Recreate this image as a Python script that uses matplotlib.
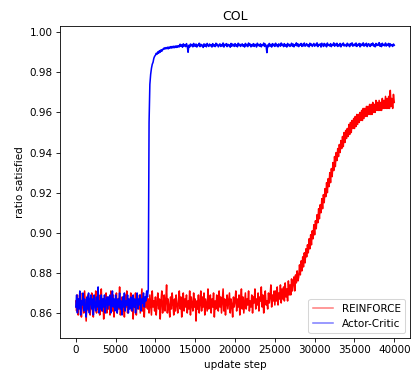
import numpy as np
import matplotlib
matplotlib.use("Agg")
import matplotlib.pyplot as plt
from matplotlib.lines import Line2D

steps = np.arange(0, 40001, 100)

reinforce = [
    0.866, 0.861, 0.869, 0.859, 0.867, 0.863, 0.870, 0.858, 0.865, 0.868,
    0.860, 0.871, 0.863, 0.856, 0.866, 0.869, 0.861, 0.867, 0.859, 0.864,
    0.870, 0.862, 0.858, 0.867, 0.864, 0.871, 0.860, 0.866, 0.862, 0.869,
    0.859, 0.865, 0.872, 0.861, 0.867, 0.857, 0.866, 0.863, 0.870, 0.860,
    0.868, 0.862, 0.866, 0.859, 0.871, 0.864, 0.861, 0.869, 0.858, 0.866,
    0.863, 0.870, 0.860, 0.867, 0.862, 0.873, 0.859, 0.865, 0.868, 0.861,
    0.866, 0.858, 0.869, 0.863, 0.871, 0.860, 0.867, 0.862, 0.865, 0.870,
    0.861, 0.868, 0.857, 0.866, 0.863, 0.870, 0.859, 0.867, 0.864, 0.862,
    0.869, 0.860, 0.866, 0.872, 0.861, 0.865, 0.858, 0.868, 0.863, 0.870,
    0.862, 0.867, 0.860, 0.869, 0.864, 0.859, 0.871, 0.863, 0.866, 0.861,
    0.868, 0.859, 0.865, 0.870, 0.862, 0.867, 0.857, 0.866, 0.871, 0.860,
    0.864, 0.869, 0.861, 0.866, 0.874, 0.860, 0.867, 0.863, 0.858, 0.868,
    0.862, 0.870, 0.865, 0.859, 0.867, 0.861, 0.869, 0.864, 0.860, 0.866,
    0.871, 0.862, 0.868, 0.858, 0.865, 0.870, 0.861, 0.867, 0.863, 0.869,
    0.860, 0.866, 0.862, 0.871, 0.859, 0.868, 0.864, 0.861, 0.870, 0.863,
    0.867, 0.856, 0.866, 0.862, 0.869, 0.860, 0.865, 0.871, 0.861, 0.868,
    0.863, 0.870, 0.859, 0.867, 0.864, 0.861, 0.872, 0.862, 0.866, 0.869,
    0.860, 0.867, 0.863, 0.870, 0.858, 0.866, 0.862, 0.869, 0.864, 0.861,
    0.871, 0.863, 0.868, 0.860, 0.866, 0.872, 0.861, 0.867, 0.859, 0.865,
    0.869, 0.862, 0.866, 0.870, 0.860, 0.867, 0.864, 0.858, 0.868, 0.863,
    0.866, 0.871, 0.861, 0.867, 0.863, 0.869, 0.859, 0.866, 0.872, 0.862,
    0.868, 0.860, 0.865, 0.870, 0.862, 0.867, 0.864, 0.871, 0.861, 0.866,
    0.863, 0.869, 0.860, 0.868, 0.865, 0.872, 0.862, 0.867, 0.864, 0.870,
    0.861, 0.868, 0.866, 0.873, 0.863, 0.869, 0.860, 0.867, 0.871, 0.864,
    0.866, 0.862, 0.870, 0.865, 0.868, 0.874, 0.863, 0.869, 0.866, 0.871,
    0.864, 0.871, 0.866, 0.873, 0.864, 0.870, 0.867, 0.874, 0.865, 0.872,
    0.867, 0.873, 0.866, 0.875, 0.868, 0.872, 0.866, 0.876, 0.869, 0.874,
    0.869, 0.877, 0.871, 0.875, 0.878, 0.871, 0.879, 0.875, 0.881, 0.876,
    0.878, 0.884, 0.879, 0.886, 0.881, 0.888, 0.883, 0.890, 0.885, 0.892,
    0.888, 0.894, 0.890, 0.897, 0.892, 0.899, 0.894, 0.901, 0.897, 0.904,
    0.899, 0.906, 0.902, 0.909, 0.905, 0.912, 0.907, 0.914, 0.910, 0.917,
    0.912, 0.919, 0.915, 0.922, 0.918, 0.925, 0.920, 0.927, 0.923, 0.930,
    0.925, 0.932, 0.928, 0.935, 0.931, 0.938, 0.933, 0.940, 0.936, 0.942,
    0.938, 0.944, 0.940, 0.946, 0.942, 0.948, 0.943, 0.950, 0.945, 0.951,
    0.947, 0.952, 0.948, 0.954, 0.949, 0.955, 0.950, 0.956, 0.952, 0.957,
    0.952, 0.958, 0.953, 0.959, 0.954, 0.959, 0.955, 0.960, 0.956, 0.961,
    0.956, 0.962, 0.957, 0.962, 0.958, 0.963, 0.958, 0.963, 0.959, 0.964,
    0.959, 0.964, 0.959, 0.965, 0.960, 0.964, 0.960, 0.966, 0.961, 0.965,
    0.961, 0.966, 0.961, 0.965, 0.961, 0.967, 0.962, 0.966, 0.962, 0.968,
    0.962, 0.967, 0.962, 0.968, 0.962, 0.971, 0.963, 0.967, 0.962, 0.969,
    0.965,
]

actor_critic = [
    0.863, 0.869, 0.860, 0.867, 0.862, 0.871, 0.859, 0.866, 0.864, 0.870,
    0.861, 0.867, 0.863, 0.858, 0.868, 0.862, 0.870, 0.860, 0.866, 0.869,
    0.862, 0.867, 0.859, 0.869, 0.864, 0.861, 0.868, 0.863, 0.873, 0.860,
    0.866, 0.862, 0.869, 0.861, 0.867, 0.863, 0.869, 0.860, 0.866, 0.868,
    0.862, 0.868, 0.864, 0.869, 0.860, 0.866, 0.871, 0.863, 0.867, 0.861,
    0.869, 0.864, 0.860, 0.867, 0.863, 0.870, 0.862, 0.866, 0.859, 0.868,
    0.863, 0.870, 0.861, 0.866, 0.864, 0.869, 0.860, 0.867, 0.862, 0.868,
    0.865, 0.861, 0.869, 0.863, 0.867, 0.860, 0.866, 0.870, 0.862, 0.867,
    0.864, 0.869, 0.861, 0.867, 0.865, 0.870, 0.863, 0.868, 0.866, 0.871,
    0.868, 0.872, 0.955, 0.974, 0.979, 0.982, 0.984, 0.985, 0.987, 0.988,
    0.9885, 0.9895, 0.9890, 0.9902, 0.9895, 0.9908, 0.9900, 0.9912, 0.9905, 0.9915,
    0.9914, 0.9922, 0.9916, 0.9923, 0.9918, 0.9925, 0.9917, 0.9926, 0.9920, 0.9928,
    0.9921, 0.9929, 0.9922, 0.9930, 0.9923, 0.9931, 0.9924, 0.9932, 0.9925, 0.9933,
    0.9927, 0.9940, 0.9930, 0.9937, 0.9925, 0.9942, 0.9931, 0.9938, 0.9928, 0.9943,
    0.9930, 0.9900, 0.9935, 0.9926, 0.9941, 0.9932, 0.9939, 0.9927, 0.9944, 0.9933,
    0.9929, 0.9941, 0.9926, 0.9937, 0.9933, 0.9945, 0.9928, 0.9940, 0.9931, 0.9936,
    0.9924, 0.9942, 0.9930, 0.9939, 0.9927, 0.9944, 0.9934, 0.9929, 0.9941, 0.9932,
    0.9938, 0.9926, 0.9943, 0.9931, 0.9937, 0.9928, 0.9945, 0.9933, 0.9940, 0.9927,
    0.9935, 0.9942, 0.9929, 0.9938, 0.9931, 0.9946, 0.9926, 0.9939, 0.9934, 0.9943,
    0.9928, 0.9940, 0.9932, 0.9937, 0.9925, 0.9944, 0.9930, 0.9941, 0.9936, 0.9929,
    0.9943, 0.9931, 0.9938, 0.9927, 0.9945, 0.9933, 0.9940, 0.9929, 0.9936, 0.9942,
    0.9930, 0.9937, 0.9926, 0.9944, 0.9932, 0.9939, 0.9928, 0.9946, 0.9934, 0.9941,
    0.9927, 0.9938, 0.9931, 0.9943, 0.9929, 0.9940, 0.9935, 0.9926, 0.9945, 0.9933,
    0.9939, 0.9930, 0.9942, 0.9927, 0.9937, 0.9934, 0.9946, 0.9929, 0.9941, 0.9932,
    0.9898, 0.9936, 0.9928, 0.9944, 0.9931, 0.9939, 0.9926, 0.9943, 0.9933, 0.9940,
    0.9929, 0.9945, 0.9932, 0.9938, 0.9927, 0.9942, 0.9935, 0.9930, 0.9946, 0.9934,
    0.9940, 0.9928, 0.9943, 0.9931, 0.9937, 0.9926, 0.9944, 0.9933, 0.9939, 0.9929,
    0.9936, 0.9945, 0.9930, 0.9941, 0.9927, 0.9938, 0.9934, 0.9947, 0.9931, 0.9942,
    0.9928, 0.9939, 0.9935, 0.9944, 0.9929, 0.9940, 0.9932, 0.9946, 0.9930, 0.9937,
    0.9943, 0.9931, 0.9938, 0.9927, 0.9945, 0.9934, 0.9941, 0.9929, 0.9936, 0.9944,
    0.9930, 0.9940, 0.9933, 0.9947, 0.9928, 0.9939, 0.9935, 0.9942, 0.9926, 0.9945,
    0.9937, 0.9929, 0.9944, 0.9932, 0.9940, 0.9927, 0.9946, 0.9934, 0.9938, 0.9931,
    0.9943, 0.9928, 0.9939, 0.9935, 0.9947, 0.9930, 0.9941, 0.9933, 0.9945, 0.9929,
    0.9938, 0.9932, 0.9944, 0.9927, 0.9940, 0.9936, 0.9946, 0.9931, 0.9939, 0.9934,
    0.9929, 0.9945, 0.9933, 0.9940, 0.9928, 0.9943, 0.9936, 0.9947, 0.9930, 0.9938,
    0.9941, 0.9932, 0.9946, 0.9929, 0.9939, 0.9935, 0.9944, 0.9927, 0.9942, 0.9933,
    0.9936, 0.9947, 0.9930, 0.9940, 0.9934, 0.9945, 0.9928, 0.9939, 0.9943, 0.9931,
    0.9929, 0.9942, 0.9936, 0.9946, 0.9931, 0.9938, 0.9927, 0.9944, 0.9933, 0.9940,
    0.9935, 0.9948, 0.9930, 0.9941, 0.9928, 0.9945, 0.9934, 0.9939, 0.9932, 0.9946,
    0.9931, 0.9940, 0.9936, 0.9944, 0.9927, 0.9942, 0.9933, 0.9938, 0.9929, 0.9941,
    0.9935,
]

series_names = ["REINFORCE", "Actor-Critic"]
series_colors = ["red", "blue"]

dpi = 75
fig = plt.figure(figsize=(416 / dpi, 374 / dpi), dpi=dpi)
ax = fig.add_axes([0.144, 0.096, 0.842, 0.834])

for vals, name, col in zip([reinforce, actor_critic], series_names, series_colors):
    ax.plot(steps, vals, color=col, linewidth=1.5, label=name)

ax.set_xlim(-2000, 42000)
ax.set_ylim(0.8475, 1.003)
ax.set_xticks(np.arange(0, 40001, 5000))
yt = np.arange(0.86, 1.001, 0.02)
ax.set_yticks(yt)
ax.set_yticklabels([f"{v:.2f}" for v in yt])
ax.set_title("COL")
ax.set_xlabel("update step")
ax.set_ylabel("ratio satisfied")

handles = [Line2D([], [], color=c, alpha=0.5, linewidth=1.5) for c in series_colors]
ax.legend(handles, series_names, loc="lower right")

fig.savefig("out.png", dpi=dpi)
